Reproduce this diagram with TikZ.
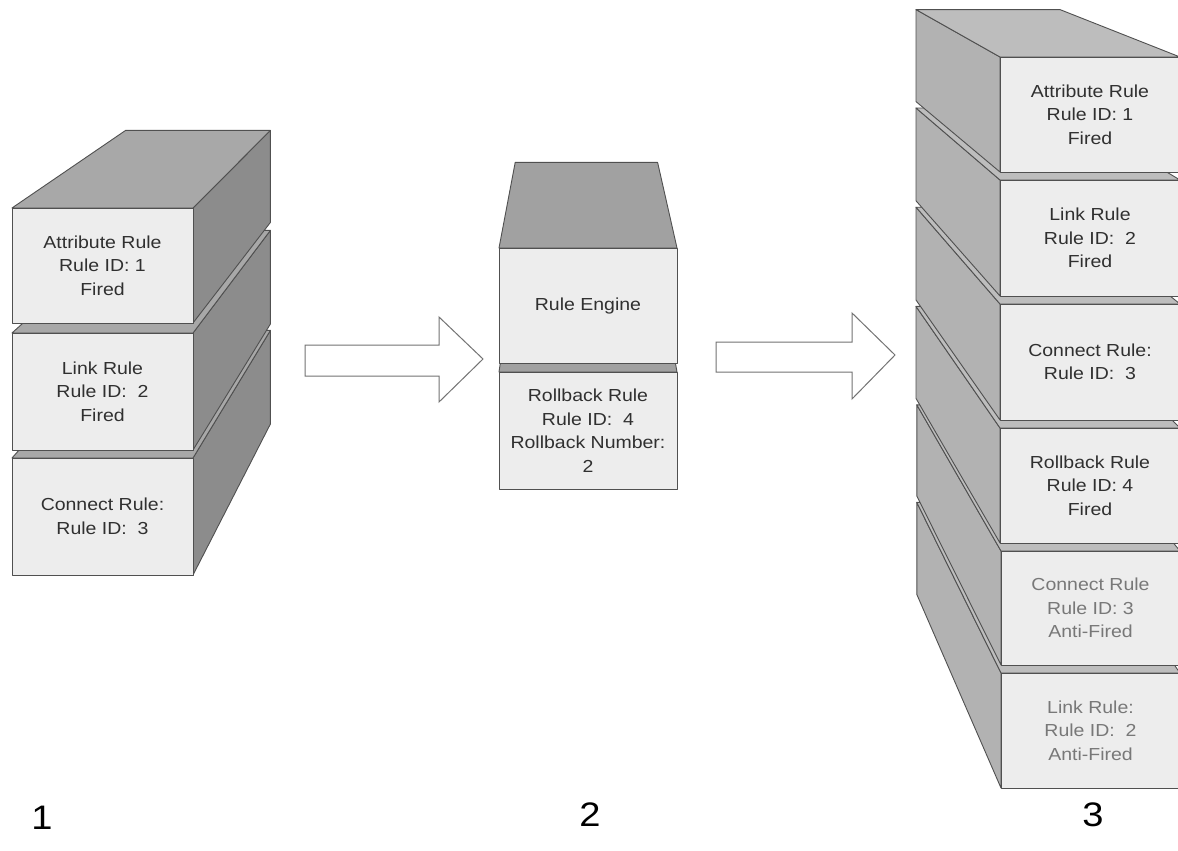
\documentclass[tikz,border=0pt]{standalone}
\usepackage{fontspec}
\setmainfont[FakeStretch=1.12]{Liberation Sans}
\usetikzlibrary{calc}
\definecolor{frontc}{HTML}{EDEDED}
\definecolor{edgec}{HTML}{505050}
\definecolor{txtc}{HTML}{303030}
\definecolor{txtgray}{HTML}{787878}
\tikzset{
  frontF/.style={fill=frontc, draw=edgec, line width=0.9pt, line join=round},
  faceF/.style={draw=edgec, line width=0.9pt, line join=round},
  lbl/.style={align=center, text=txtc, font=\fontsize{17.4}{23.5}\selectfont, inner sep=0pt},
  lblgray/.style={lbl, text=txtgray},
  num/.style={text=black, font=\fontsize{34}{38}\selectfont, inner sep=0pt},
  blockarrow/.style={fill=white, draw=black!55, line width=1pt, line join=miter}
}
% back point of a front corner: scaled 0.8 toward the vanishing point V
\newcommand{\bk}[1]{($(V)!0.8!(#1)$)}
% cuboid: x1 y1 x2 y2 name topcolour sidecolour labelstyle text
\newcommand{\cubR}[9]{%
  \coordinate (#5-tl) at (#1,#2); \coordinate (#5-tr) at (#3,#2);
  \coordinate (#5-br) at (#3,#4); \coordinate (#5-bl) at (#1,#4);
  \draw[faceF, fill=#7] (#5-tr) -- \bk{#5-tr} -- \bk{#5-br} -- (#5-br) -- cycle;
  \draw[faceF, fill=#6] (#5-tl) -- (#5-tr) -- \bk{#5-tr} -- \bk{#5-tl} -- cycle;
  \draw[frontF] (#5-tl) rectangle (#5-br);
  \node[#8] (#5) at ($(#5-tl)!0.5!(#5-br)$) {#9};
}
\newcommand{\cubL}[9]{%
  \coordinate (#5-tl) at (#1,#2); \coordinate (#5-tr) at (#3,#2);
  \coordinate (#5-br) at (#3,#4); \coordinate (#5-bl) at (#1,#4);
  \draw[faceF, fill=#7] (#5-tl) -- \bk{#5-tl} -- \bk{#5-bl} -- (#5-bl) -- cycle;
  \draw[faceF, fill=#6] (#5-tl) -- (#5-tr) -- \bk{#5-tr} -- \bk{#5-tl} -- cycle;
  \draw[frontF] (#5-tl) rectangle (#5-br);
  \node[#8] (#5) at ($(#5-tl)!0.5!(#5-br)$) {#9};
}
\newcommand{\cubN}[9]{%
  \coordinate (#5-tl) at (#1,#2); \coordinate (#5-tr) at (#3,#2);
  \coordinate (#5-br) at (#3,#4); \coordinate (#5-bl) at (#1,#4);
  \draw[faceF, fill=#6] (#5-tl) -- (#5-tr) -- \bk{#5-tr} -- \bk{#5-tl} -- cycle;
  \draw[frontF] (#5-tl) rectangle (#5-br);
  \node[#8] (#5) at ($(#5-tl)!0.5!(#5-br)$) {#9};
}
\begin{document}
\begin{tikzpicture}[x=1pt, y=-1pt]
\useasboundingbox (0,0) rectangle (1178,851);
\clip (0,0) rectangle (1178,851);
\fill[white] (0,0) rectangle (1178,851);
\coordinate (V) at (580,-180);

% ---- stack 1 (right side visible) ----
\cubR{12}{458}{193}{575}{s1c}{black!34}{black!45}{lbl}{Connect Rule:\\Rule ID:~ 3}
\cubR{12}{333}{193}{450}{s1b}{black!34}{black!45}{lbl}{Link Rule\\Rule ID:~ 2\\Fired}
\cubR{12}{208}{193}{323}{s1a}{black!34}{black!45}{lbl}{Attribute Rule\\Rule ID: 1\\Fired}

% ---- stack 2 (top only) ----
\cubN{499}{372}{677}{489}{s2b}{black!37}{black!37}{lbl}{Rollback Rule\\Rule ID:~ 4\\Rollback Number:\\2}
\cubN{499}{248}{677}{363}{s2a}{black!37}{black!37}{lbl}{Rule Engine}

% ---- stack 3 (left side visible) ----
\cubL{1001}{673}{1180}{788}{s3f}{black!26}{black!30}{lblgray}{Link Rule:\\Rule ID:~ 2\\Anti-Fired}
\cubL{1001}{551}{1180}{665}{s3e}{black!26}{black!30}{lblgray}{Connect Rule\\Rule ID: 3\\Anti-Fired}
\cubL{1000}{428}{1180}{543}{s3d}{black!26}{black!30}{lbl}{Rollback Rule\\Rule ID: 4\\Fired}
\cubL{1000}{304}{1180}{420}{s3c}{black!26}{black!30}{lbl}{Connect Rule:\\Rule ID:~ 3}
\cubL{1000}{180}{1180}{296}{s3b}{black!26}{black!30}{lbl}{Link Rule\\Rule ID:~ 2\\Fired}
\cubL{1000}{57}{1180}{172}{s3a}{black!26}{black!30}{lbl}{Attribute Rule\\Rule ID: 1\\Fired}

% ---- block arrows ----
\draw[blockarrow] (305,345) -- (439,345) -- (439,317) -- (483,359) -- (439,402) -- (439,376) -- (305,376) -- cycle;
\draw[blockarrow] (716,342) -- (852,342) -- (852,313) -- (895,355) -- (852,399) -- (852,372) -- (716,372) -- cycle;

% ---- step numbers ----
\node[num] (n1) at (42,818) {1};
\node[num] (n2) at (590,815) {2};
\node[num] (n3) at (1093,815) {3};
\end{tikzpicture}
\end{document}
